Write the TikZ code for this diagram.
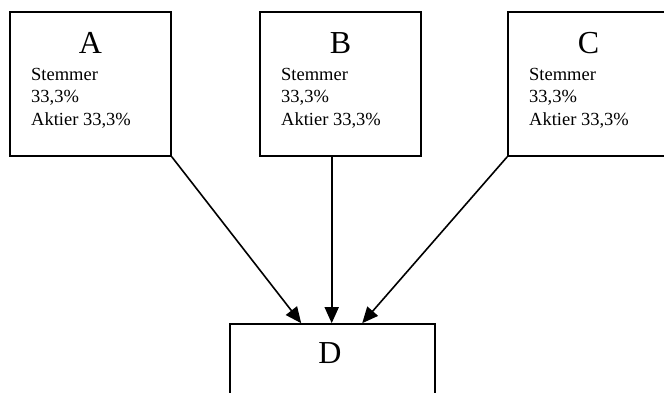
\documentclass[tikz,border=0pt]{standalone}
\usepackage{fontspec}
\setmainfont{Liberation Serif}
\usetikzlibrary{arrows.meta,calc}
\begin{document}
\begin{tikzpicture}[x=1pt,y=-1pt,
  owner/.style={draw=black,line width=1.6pt,minimum width=161pt,minimum height=144pt,inner sep=0pt},
  target/.style={draw=black,line width=1.6pt,minimum width=205pt,minimum height=90pt,inner sep=0pt},
  title/.style={font=\fontsize{32}{32}\selectfont,inner sep=0pt,anchor=base},
  share/.style={font=\fontsize{18.5}{22.5}\selectfont,inner sep=0pt,anchor=base west},
  link/.style={line width=1.6pt,-{Triangle[length=16pt,width=14pt]}}]
\useasboundingbox (0,0) rectangle (664,392);
\fill[white] (0,0) rectangle (664,392);

% shareholders
\node[owner] (A) at (90.5,84) {};
\node[owner] (B) at (340.5,84) {};
\node[owner] (C) at (588.5,84) {};
\node[title] (tA) at (90.5,53) {A};
\node[title] (tB) at (340.5,53) {B};
\node[title] (tC) at (588.5,53) {C};

\node[share] (sA1) at (31,80) {Stemmer};
\node[share] (sA2) at (31,102.5) {33,3\%};
\node[share] (sA3) at (31,125) {Aktier 33,3\%};
\node[share] (sB1) at (281,80) {Stemmer};
\node[share] (sB2) at (281,102.5) {33,3\%};
\node[share] (sB3) at (281,125) {Aktier 33,3\%};
\node[share] (sC1) at (529,80) {Stemmer};
\node[share] (sC2) at (529,102.5) {33,3\%};
\node[share] (sC3) at (529,125) {Aktier 33,3\%};

% owned company
\node[target] (D) at (332.5,369) {};
\node[title] (tD) at (330,363) {D};

% connector ends
\coordinate (bOut) at ($(B.south west)+(72.5,0)$);
\coordinate (dA) at ($(D.north west)+(72,0)$);
\coordinate (dB) at ($(D.north west)+(102.5,0)$);
\coordinate (dC) at ($(D.north west)+(133,0)$);

\draw[link] (A.south east) -- (dA);
\draw[link] (bOut) -- (dB);
\draw[link] (C.south west) -- (dC);
\end{tikzpicture}
\end{document}
